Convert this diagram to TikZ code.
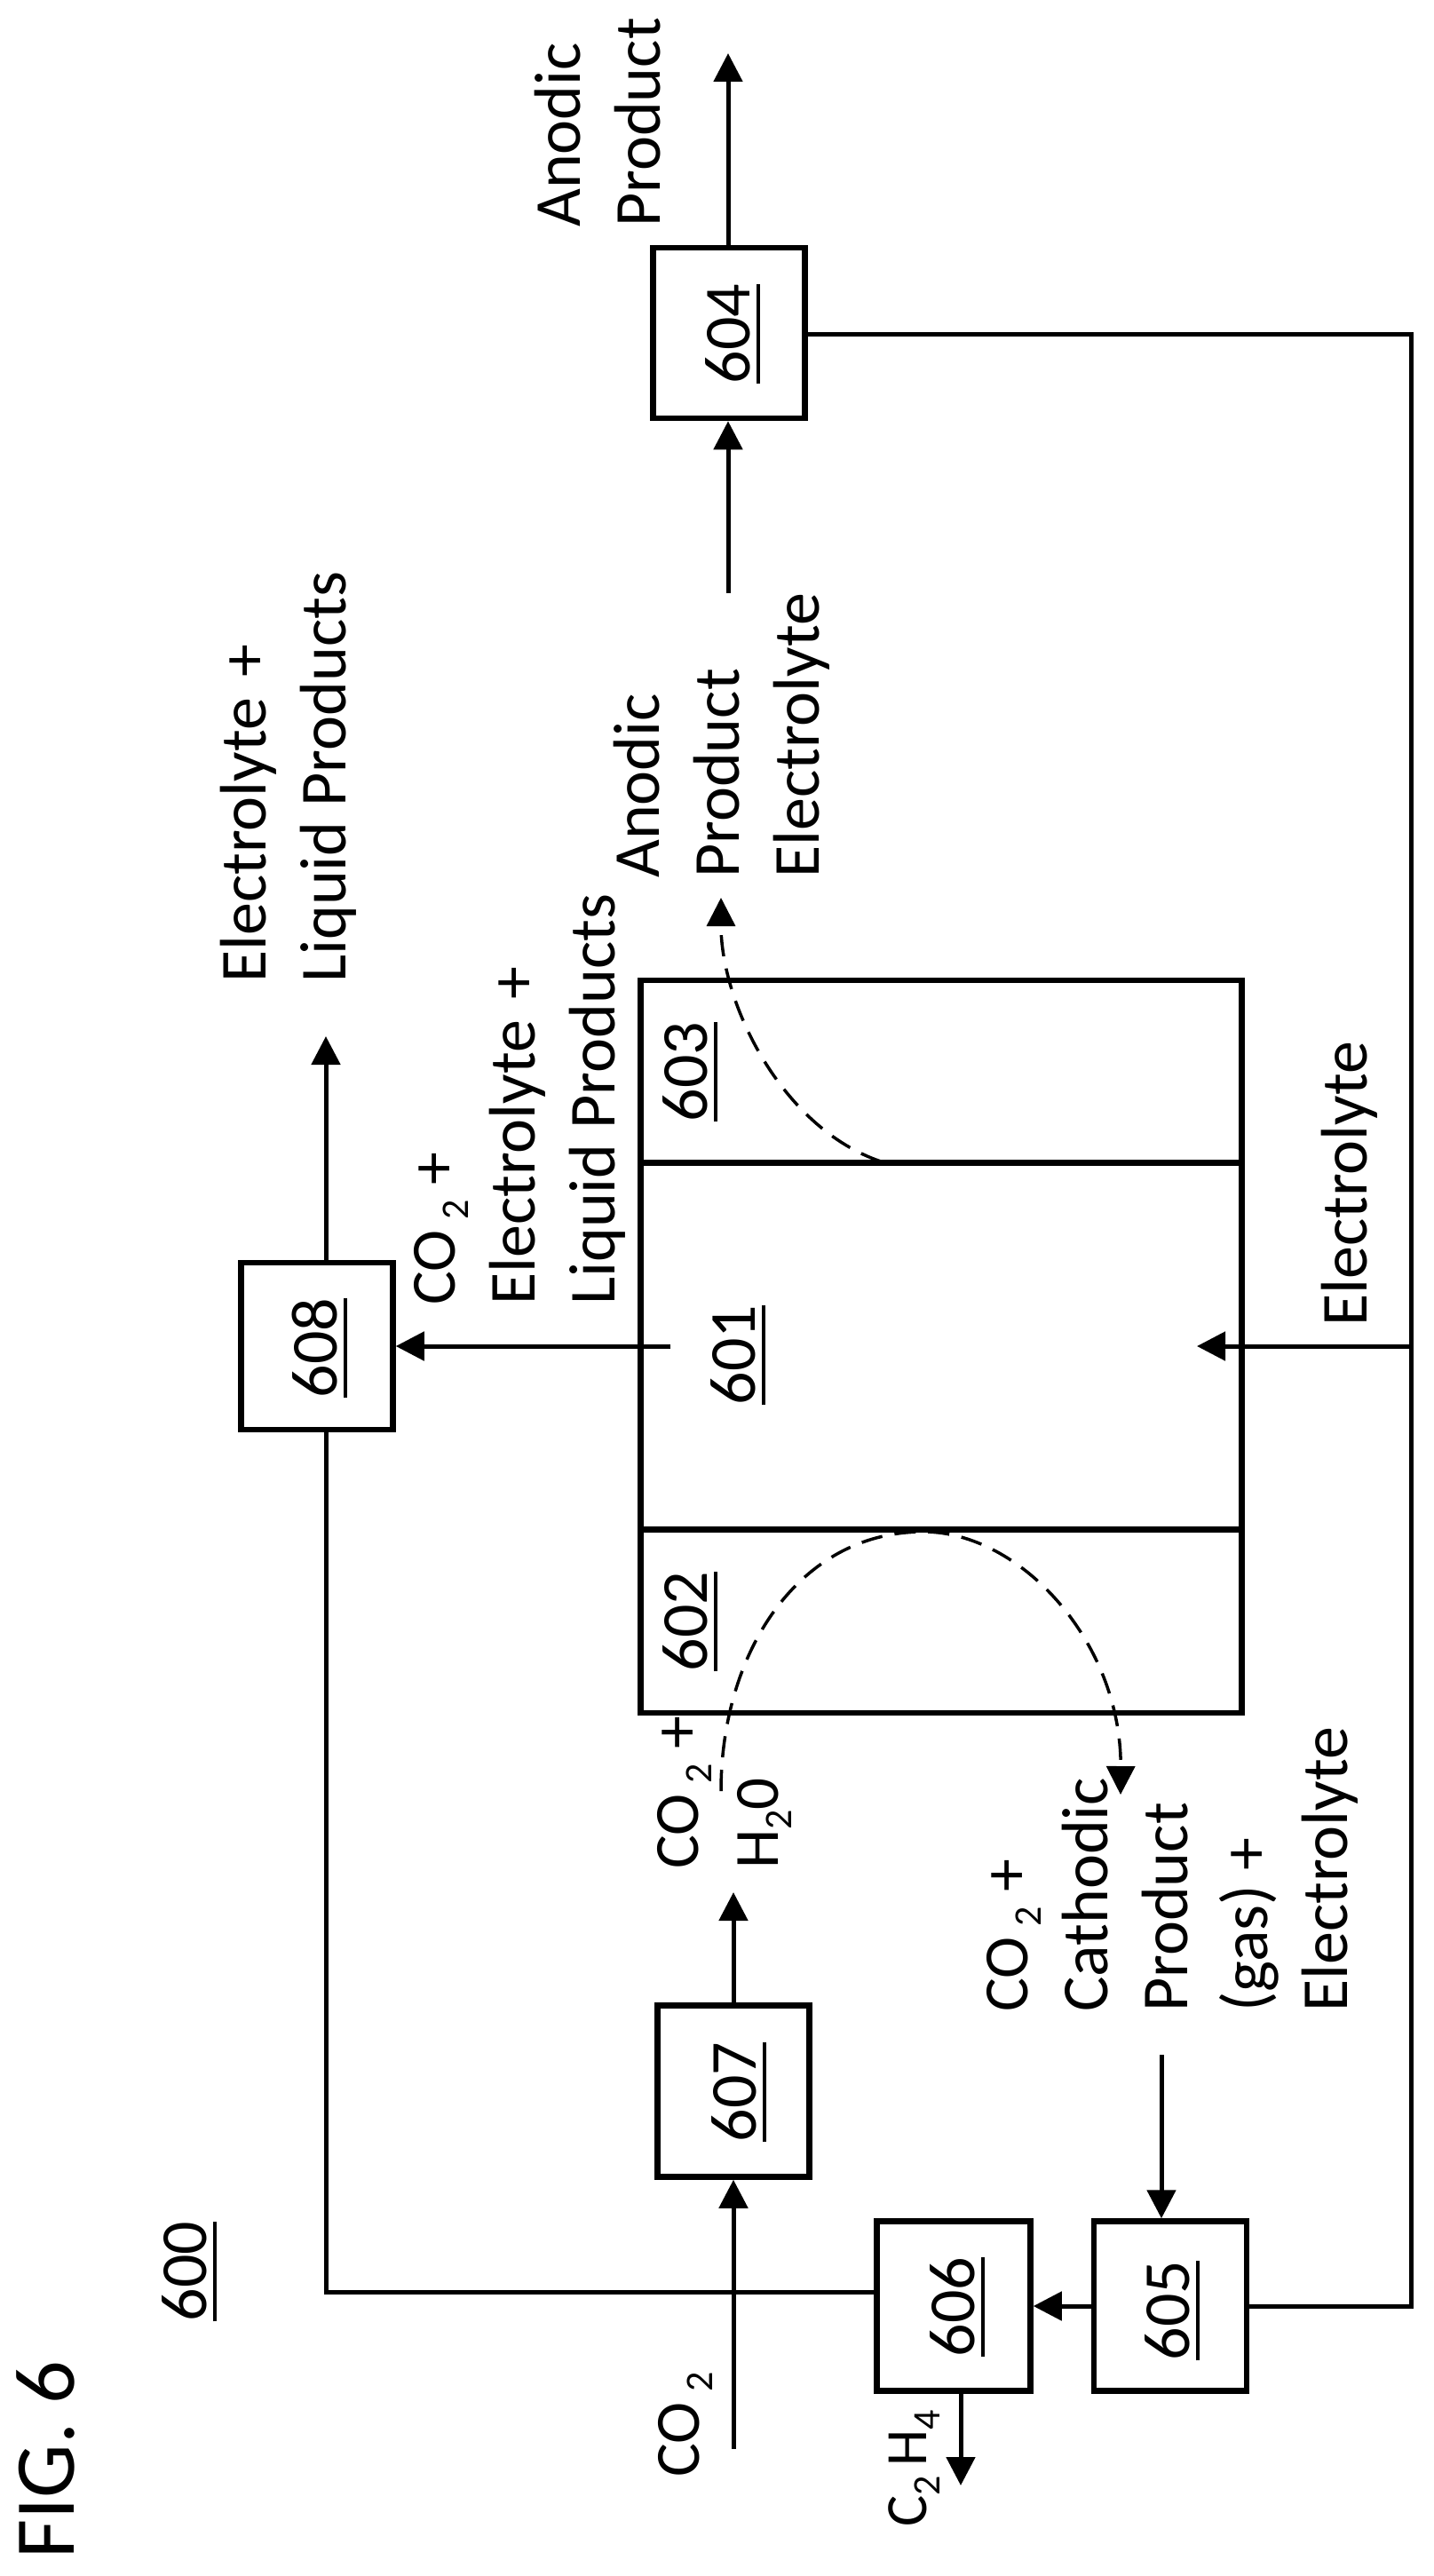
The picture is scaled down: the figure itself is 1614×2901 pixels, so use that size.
\documentclass[tikz,border=0pt]{standalone}
\usepackage{fontspec}
\setmainfont{Carlito}
\usetikzlibrary{arrows.meta}

\newcommand{\refnum}[1]{\vtop{\hbox{#1}\kern7pt\hrule height 4pt}}
\newcommand{\subt}[1]{\raisebox{-15pt}{\fontsize{44}{44}\selectfont #1}}
\newcommand{\subn}[1]{\,\subt{#1}}
\newcommand{\chemfont}{\fontsize{71}{90}\selectfont}
\newcommand{\cotwo}{{\chemfont CO}\subn{2}}
\newcommand{\eplus}{Electrolyte\hspace{6pt} +}

\tikzset{
    boxnode/.style={draw, line width=6.5pt, inner sep=0pt},
    lab/.style={rotate=90, anchor=west, align=left, inner sep=0pt, font=\fontsize{74}{90}\selectfont},
    num/.style={rotate=90, inner sep=0pt, font=\fontsize{74}{90}\selectfont},
    flow/.style={line width=5pt, -{Triangle[length=32pt, width=32pt]}},
    pipe/.style={line width=5pt},
    dashflow/.style={line width=3.5pt, dash pattern=on 24pt off 14pt, -{Triangle[length=32pt, width=32pt]}}
}

\begin{document}
\begin{tikzpicture}[x=1pt, y=-1pt]
    \useasboundingbox (0,0) rectangle (1614,2901);

    % boxes
    \node[boxnode, minimum width=171pt, minimum height=192pt] (b604) at (821,375) {};
    \node[boxnode, minimum width=171pt, minimum height=188pt] (b608) at (357,1516) {};
    \node[boxnode, minimum width=171pt, minimum height=193pt] (b607) at (826,2355) {};
    \node[boxnode, minimum width=173pt, minimum height=191pt] (b606) at (1074,2597) {};
    \node[boxnode, minimum width=172pt, minimum height=191pt] (b605) at (1318,2597) {};

    % cell
    \node[boxnode, minimum width=677pt, minimum height=206pt] (c603) at (1060,1207) {};
    \node[boxnode, minimum width=677pt, minimum height=413pt] (c601) at (1060,1516) {};
    \node[boxnode, minimum width=677pt, minimum height=206pt] (c602) at (1060,1826) {};

    % reference numbers
    \node[num] (n604) at (825,376) {\refnum{604}};
    \node[num] (n608) at (360,1518) {\refnum{608}};
    \node[num] (n607) at (832,2356) {\refnum{607}};
    \node[num] (n606) at (1078,2598) {\refnum{606}};
    \node[num] (n605) at (1320,2602) {\refnum{605}};
    \node[num] (n603) at (777,1207) {\refnum{603}};
    \node[num] (n601) at (831,1526) {\refnum{601}};
    \node[num] (n602) at (777,1826) {\refnum{602}};
    \node[num] (n600) at (213,2558) {\refnum{600}};

    % labels
    \node[rotate=90, inner sep=0pt, font=\fontsize{96}{100}\selectfont] (fig) at (51,2770) {FIG. 6};
    \node[lab] (tAnodeOut) at (673,256) {Anodic\\Product};
    \node[lab] (tLiqOut) at (325,1107) {\eplus\\Liquid Products};
    \node[lab] (tAnodeCell) at (813,989) {Anodic\\Product\\Electrolyte};
    \node[lab] (tLiqCell) at (585,1470) {\cotwo{} +\\\eplus\\Liquid Products};
    \node[lab] (tFeed) at (816,2105) {\cotwo{} +\\{\chemfont H}\subt{2}{\chemfont 0}};
    \node[lab] (tCathode) at (1320,2266) {\cotwo{} +\\Cathodic\\Product\\(gas) +\\Electrolyte};
    \node[lab] (tElec) at (1520,1494) {Electrolyte};
    \node[lab] (tCO) at (772,2790) {\cotwo};
    \node[lab] (tEth) at (1030,2846) {{\fontsize{66}{90}\selectfont C}\subt{2}{\fontsize{66}{90}\selectfont\,H}\subt{4}};

    % free ends
    \coordinate (outAnode) at (820,60);
    \coordinate (inAnode) at (820,668);
    \coordinate (outLiq) at (367,1167);
    \coordinate (midLiq) at (755,1516);
    \coordinate (midElec) at (1348,1516);
    \coordinate (cornerR) at (1589,376);
    \coordinate (cornerRb) at (1589,2597);
    \coordinate (jointElec) at (1589,1516);
    \coordinate (cornerL) at (367,2581);
    \coordinate (outFeed) at (826,2131);
    \coordinate (inCO) at (826,2758);
    \coordinate (outEth) at (1082,2799);
    \coordinate (inSep) at (1308,2314);
    \coordinate (a603) at (992,1308);
    \coordinate (e603) at (812,1011);
    \coordinate (a602) at (812,2017);
    \coordinate (t602) at (1040,1725);
    \coordinate (e602) at (1262,2021);

    % connectors
    \draw[flow] (b604.north -| outAnode) -- (outAnode);
    \draw[flow] (inAnode) -- (b604.south -| inAnode);
    \draw[pipe] (b604.east |- cornerR) -- (cornerR) -- (cornerRb) -- (b605.east |- cornerRb);
    \draw[flow] (jointElec) -- (midElec);
    \draw[flow] (midLiq) -- (b608.east |- midLiq);
    \draw[flow] (b608.north -| outLiq) -- (outLiq);
    \draw[pipe] (b608.south -| cornerL) -- (cornerL) -- (b606.west |- cornerL);
    \draw[flow] (inCO) -- (b607.south);
    \draw[flow] (b607.north) -- (outFeed);
    \draw[flow] (b606.south -| outEth) -- (outEth);
    \draw[flow] (b605.west) -- (b606.east);
    \draw[flow] (inSep) -- (b605.north -| inSep);

    % dashed paths inside the cell
    \draw[dashflow] (a603) .. controls (880,1270) and (812,1130) .. (e603);
    \draw[dashflow] (a602) .. controls (812,1860) and (900,1725) .. (t602)
        .. controls (1150,1725) and (1263,1850) .. (e602);
\end{tikzpicture}
\end{document}
